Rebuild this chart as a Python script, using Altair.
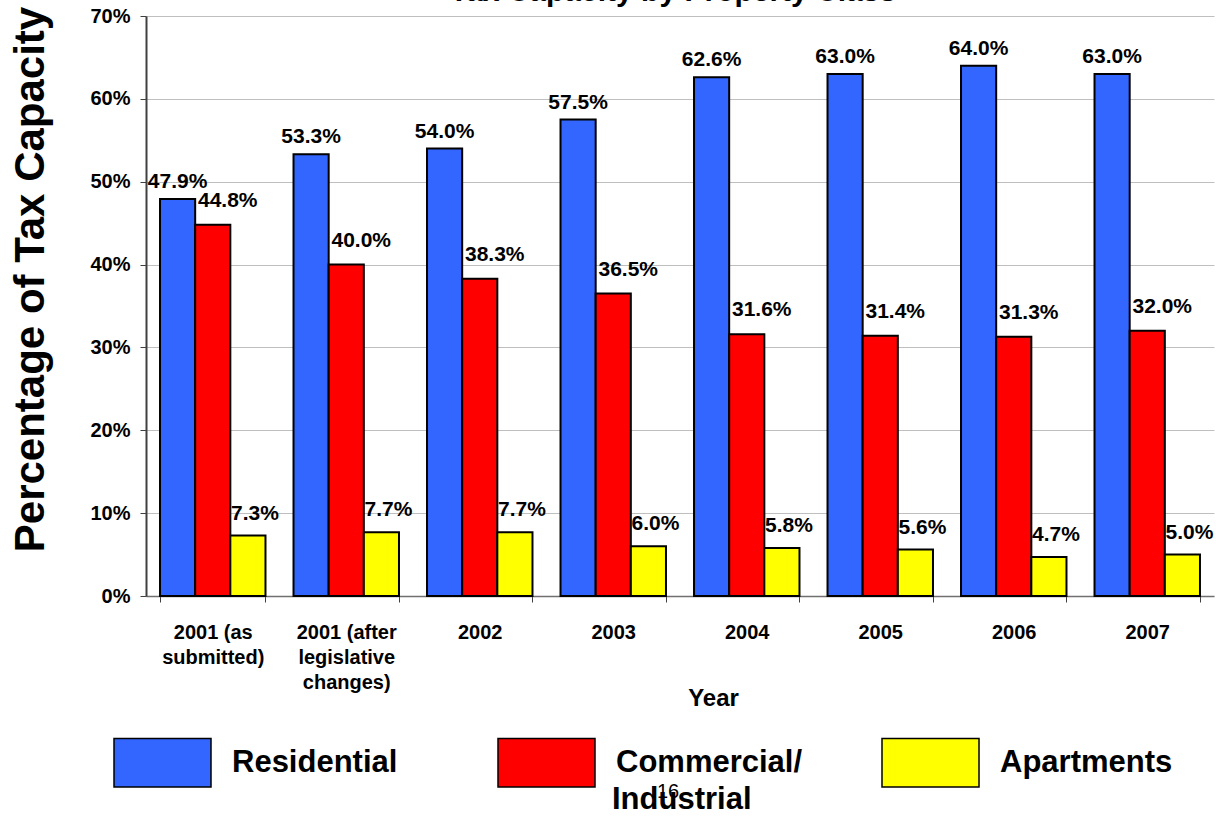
import altair as alt
import pandas as pd

FONT = "Liberation Sans"

categories = ["2001  (as|submitted)", "2001 (after|legislative|changes)", "2002", "2003",
              "2004", "2005", "2006", "2007"]
series = ["Residential", "Commercial/Industrial", "Apartments"]
residential = [47.9, 53.3, 54.0, 57.5, 62.6, 63.0, 64.0, 63.0]
commercial = [44.8, 40.0, 38.3, 36.5, 31.6, 31.4, 31.3, 32.0]
apartments = [7.3, 7.7, 7.7, 6.0, 5.8, 5.6, 4.7, 5.0]
colors = ["#3366FF", "#FF0000", "#FFFF00"]
y_ticks = [0, 10, 20, 30, 40, 50, 60, 70]

rows = []
for i, cat in enumerate(categories):
    for s, vals in zip(series, [residential, commercial, apartments]):
        rows.append({"Year": cat, "Class": s, "Share": vals[i]})
df = pd.DataFrame(rows)

x_enc = alt.X(
    "Year:N", sort=categories,
    scale=alt.Scale(domain=categories, paddingInner=0.21, paddingOuter=0.105),
    axis=alt.Axis(
        title="Year", labelExpr="split(datum.label, '|')", labelAngle=0,
        labelFont=FONT, labelFontSize=20, labelFontWeight="bold", labelColor="black",
        labelLineHeight=25, labelBaseline="top", labelPadding=20, labelOverlap=False,
        labelLimit=300,
        tickBand="extent", ticks=True, tickSize=6, tickColor="#404040",
        domainColor="#707070", domainWidth=1.5, grid=False,
        titleFont=FONT, titleFontSize=24, titleFontWeight="bold", titleColor="black",
        titleX=567, titleY=102, titleAlign="center", titleBaseline="middle",
    ),
)
xoff_enc = alt.XOffset("Class:N", sort=series,
                       scale=alt.Scale(domain=series, paddingInner=0, paddingOuter=0))
y_enc = alt.Y(
    "Share:Q", scale=alt.Scale(domain=[0, 70], nice=False),
    axis=alt.Axis(
        values=y_ticks, labelExpr="datum.value + '%'",
        title="Percentage of Tax Capacity",
        titleFont=FONT, titleFontSize=42, titleFontWeight="bold", titleColor="black",
        titleAngle=270, titleX=-116, titleY=263, titleAlign="center", titleBaseline="middle",
        labelFont=FONT, labelFontSize=20, labelFontWeight="bold", labelColor="black",
        labelPadding=10,
        grid=True, gridColor="#BFBFBF", gridWidth=1,
        domainColor="#404040", domainWidth=2, tickColor="#404040", tickSize=6,
    ),
)

base = alt.Chart(df)

bars = base.mark_bar(stroke="black", strokeWidth=2).encode(
    x=x_enc, xOffset=xoff_enc, y=y_enc,
    color=alt.Color(
        "Class:N", sort=series,
        scale=alt.Scale(domain=series, range=colors),
        legend=alt.Legend(
            title=None, orient="none", legendX=-33, legendY=697,
            direction="horizontal", columns=3, gridAlign="all", padding=0,
            symbolType="M-1,-0.5H1V0.5H-1Z", symbolSize=9409,
            symbolStrokeColor="black", symbolStrokeWidth=1.5, symbolOpacity=1,
            labelFont=FONT, labelFontSize=31, labelFontWeight="bold", labelColor="black",
            labelOffset=20, labelLimit=400, labelBaseline="middle",
            labelExpr="datum.label == 'Commercial/Industrial' ? 'Commercial/' : datum.label",
            columnPadding=76,
        ),
    ),
)

label_style = {"Residential": (0, -11), "Commercial/Industrial": (15, -18), "Apartments": (7, -16)}
text_layers = []
for s in series:
    dx, dy = label_style[s]
    t = base.transform_filter(alt.datum.Class == s).transform_calculate(
        lab="format(datum.Share, '.1f') + '%'"
    ).mark_text(
        dx=dx, dy=dy, baseline="alphabetic", align="center",
        font=FONT, fontSize=21, fontWeight="bold", color="black",
    ).encode(x=x_enc, xOffset=xoff_enc, y=y_enc, text="lab:N")
    text_layers.append(t)

title_frag = alt.Chart(pd.DataFrame({"t": ["Tax Capacity by Property Class"]})).mark_text(
    font=FONT, fontSize=30, fontWeight="bold", color="black", baseline="alphabetic", align="center"
).encode(text="t:N", x=alt.value(527), y=alt.value(-15))

legend_wrap = alt.Chart(pd.DataFrame({"t": ["Industrial"]})).mark_text(
    font=FONT, fontSize=31, fontWeight="bold", color="black", baseline="middle", align="left"
).encode(text="t:N", x=alt.value(466), y=alt.value(784))

page_no = alt.Chart(pd.DataFrame({"t": ["16"]})).mark_text(
    font=FONT, fontSize=20, color="black", baseline="middle", align="center"
).encode(text="t:N", x=alt.value(522), y=alt.value(776))

chart = alt.layer(bars, *text_layers, title_frag, legend_wrap, page_no).properties(
    width=1068, height=580,
    autosize=alt.AutoSizeParams(type="none"),
    padding={"left": 146, "top": 16, "right": 2, "bottom": 220},
    background="white",
).configure_view(strokeOpacity=0)

chart.save("out.html", embed_options={"renderer": "svg", "actions": False})
